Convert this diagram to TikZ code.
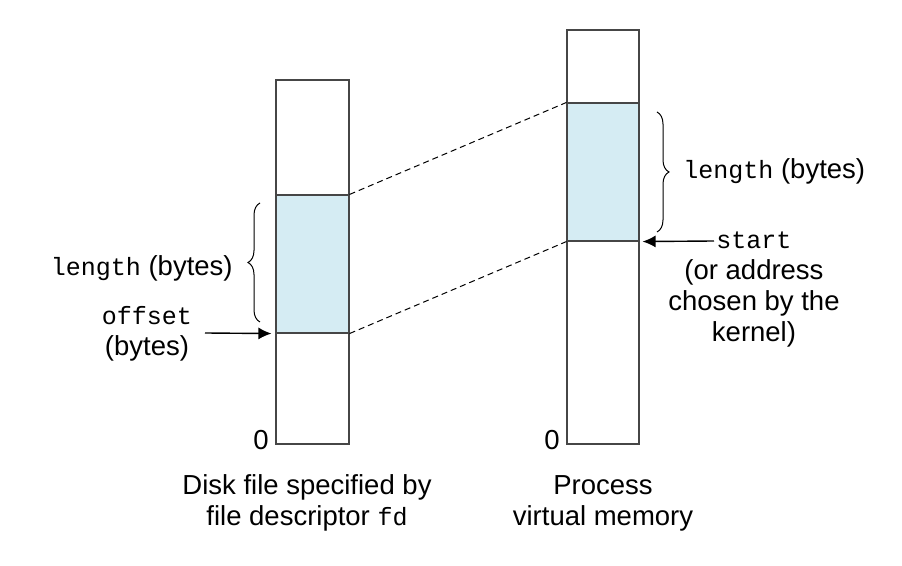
\documentclass[tikz,border=0pt]{standalone}
\usepackage{fontspec}
\setmainfont{Liberation Sans}
\setmonofont{Liberation Mono}
\usetikzlibrary{decorations.pathreplacing,arrows.meta}
\definecolor{regblue}{RGB}{213,236,243}
\definecolor{boxgray}{RGB}{70,70,70}
\tikzset{
  membox/.style={draw=boxgray,line width=0.55pt,fill=white,inner sep=0pt},
  region/.style={draw=boxgray,line width=0.55pt,fill=regblue,inner sep=0pt},
  lbl/.style={inner sep=0pt,font=\fontsize{13.75}{15.5}\selectfont},
  bracestyle/.style={decorate,decoration={brace,amplitude=6pt},line width=0.5pt},
  ptr/.style={line width=0.7pt,-{Latex[length=6.5pt,width=6pt]}},
  mapline/.style={dashed,dash pattern=on 3pt off 2pt,line width=0.5pt}
}
\begin{document}
\begin{tikzpicture}[x=0.5pt,y=-0.5pt]
\useasboundingbox (0,0) rectangle (902,566);
% left column
\node[membox,minimum width=36.5pt,minimum height=182pt] (L) at (312.5,262) {};
\node[region,minimum width=36.5pt,minimum height=69pt] (Lb) at (312.5,264) {};
% right column
\node[membox,minimum width=36pt,minimum height=207pt] (R) at (603,237) {};
\node[region,minimum width=36pt,minimum height=69pt] (Rb) at (603,172) {};
% mapping lines
\draw[mapline] (Lb.north east) -- (Rb.north west);
\draw[mapline] (Lb.south east) -- (Rb.south west);
% braces
\coordinate (lbB) at (260,322);
\coordinate (lbT) at (260,203);
\draw[bracestyle] (lbB) -- (lbT);
\coordinate (rbT) at (657,112);
\coordinate (rbB) at (657,232);
\draw[bracestyle] (rbT) -- (rbB);
% labels
\node[lbl,anchor=east] (llen) at (233,268) {{\fontsize{12.5}{15}\ttfamily length} (bytes)};
\node[lbl,anchor=west] (rlen) at (683,171) {{\fontsize{12.5}{15}\ttfamily length} (bytes)};
\node[lbl,align=center] (off) at (147,334) {{\fontsize{12.5}{15}\ttfamily offset}\\(bytes)};
\coordinate (offtail) at (205,333);
\draw[ptr] (offtail) -- ([xshift=-2pt]Lb.south west);
\node[lbl,align=center,anchor=north] (st) at (754,231) {{\fontsize{12.5}{15}\ttfamily start}\\(or address\\chosen by the\\kernel)};
\coordinate (sttail) at (714,241);
\draw[ptr] (sttail) -- ([xshift=1.5pt]Rb.south east);
\node[lbl] (z1) at (261,440) {0};
\node[lbl] (z2) at (552,440) {0};
\node[lbl,align=center] (capL) at (307,503) {Disk file specified by\\file descriptor {\fontsize{12.5}{15}\ttfamily fd}};
\node[lbl,align=center] (capR) at (603,503) {Process\\virtual memory};
\end{tikzpicture}
\end{document}
